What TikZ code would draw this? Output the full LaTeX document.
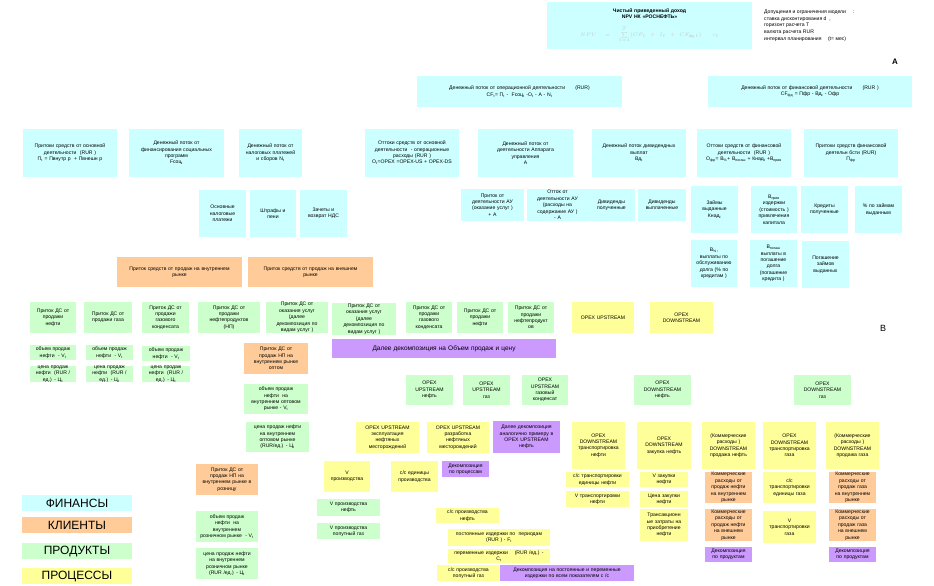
\documentclass[tikz,border=0pt]{standalone}
\usepackage{fontspec}
\setmainfont{Liberation Sans}
\usepackage{amsmath}
\definecolor{cy}{HTML}{CCFFFF}
\definecolor{or}{HTML}{FFCC99}
\definecolor{gr}{HTML}{CCFFCC}
\definecolor{ye}{HTML}{FFFF99}
\definecolor{pu}{HTML}{CC99FF}
\tikzset{
  box/.style={inner sep=0pt,align=center,font=\fontsize{5.1}{6.4}\selectfont,draw=none},
  legend/.style={font=\fontsize{12}{14}\selectfont},
  bigtxt/.style={font=\fontsize{6.5}{8}\selectfont},
  lbl/.style={inner sep=0pt}
}
\newcommand\bx[8][]{%
  \pgfmathsetmacro\bxw{#6-#4}%
  \pgfmathsetmacro\bxh{#7-#5}%
  \pgfmathsetmacro\bxt{#6-#4-2}%
  \node[box,fill=#3,minimum width=\bxw pt,minimum height=\bxh pt,text width=\bxt pt,#1] (#2) at ({(#4+#6)/2},{(#5+#7)/2}) {#8};}
\begin{document}
\begin{tikzpicture}[x=1pt,y=-1pt]
\fill[white] (0,0) rectangle (934,586);
\useasboundingbox (0,0) rectangle (934,586);
% top
\bx{npv}{cy}{547}{2}{752}{49}{{\bfseries Чистый приведенный доход\\NPV НК «РОСНЕФТЬ»}\\[7pt]{\color{gray!45}\fontsize{5.5}{6}\selectfont $NPV=\sum\limits_{t=1}^{T}(CF_t+I_t+CF_{\text{фд}\,t})\cdot r_t$}}
\node[lbl,anchor=north west,align=left,font=\fontsize{5.1}{6.6}\selectfont] (assum) at (764,10) {Допущения и ограничения модели \quad :\\ставка дисконтирования d \ ,\\горизонт расчета T\\валюта расчета RUR\\интервал планирования \quad (t= мес)};
\node[lbl,font=\fontsize{8}{9}\selectfont\bfseries] (lblA) at (895,62) {A};
\node[lbl,font=\fontsize{9}{10}\selectfont] (lblB) at (883,328) {B};
% level 2
\bx{op}{cy}{417}{76}{622}{107}{Денежный поток от операционной деятельности\qquad (RUR)\\CF\textsubscript{t}= П\textsubscript{t} - \ Fсоц\textsubscript{t} -O\textsubscript{t} - A - N\textsubscript{t}}
\bx{fin}{cy}{708}{76}{912}{107}{Денежный поток от финансовой деятельности\qquad (RUR )\\CF\textsubscript{фд} = Пфр - Вд\textsubscript{t} - Офр}
% level 3
\bx{inop}{cy}{23}{129}{117}{177}{Притоки средств от основной\\деятельности \ (RUR )\\П\textsubscript{t} = Пвнутр р \ + Пвнешн р}
\bx{soc}{cy}{129}{129}{224}{177}{Денежный поток от\\финансирования социальных\\программ\\Fсоц\textsubscript{t}}
\bx{tax}{cy}{239}{129}{302}{177}{Денежный поток от\\налоговых платежей\\и сборов N\textsubscript{t}}
\bx{outop}{cy}{365}{129}{459}{177}{Оттоки средств от основной\\деятельности \ - операционные\\расходы (RUR )\\O\textsubscript{t}=OPEX =OPEX-US + OPEX-DS}
\bx{au}{cy}{478}{129}{573}{177}{Денежный поток от\\деятельности Аппарата\\управления\\A}
\bx{div}{cy}{592}{129}{686}{177}{Денежный поток дивидендных\\выплат\\Вд\textsubscript{t}}
\bx{outfin}{cy}{697}{129}{791}{177}{Оттоки средств от финансовой\\деятельности \ (RUR )\\O\textsubscript{фр}= B\textsubscript{\%}+ B\textsubscript{погаш} + Кнад\textsubscript{t} +B\textsubscript{прив}}
\bx{infin}{cy}{804}{129}{898}{177}{Притоки средств финансовой\\деятельн бсти (RUR)\\П\textsubscript{фр}}
% level 4
\bx{maintax}{cy}{199}{190}{246}{237}{Основные\\налоговые\\платежи}
\bx{fines}{cy}{250}{190}{296}{237}{Штрафы и\\пени}
\bx{vat}{cy}{300}{190}{347}{237}{Зачеты и\\возврат НДС}
\bx{auin}{cy}{461}{189}{524}{221}{Приток от\\деятельности АУ\\(оказание услуг )\\+ A}
\bx{auout}{cy}{527}{189}{588}{221}{Отток от\\деятельности АУ\\(расходы на\\содержание АУ )\\- A}
\bx{divin}{cy}{588}{189}{635}{221}{Дивиденды\\полученные}
\bx{divout}{cy}{638}{189}{686}{221}{Дивиденды\\выплаченные}
\bx{loans}{cy}{691}{186}{738}{233}{Займы\\выданные\\Кнад\textsubscript{t}}
\bx{bpriv}{cy}{751}{186}{797}{233}{B\textsubscript{прив}\\издержки\\(стоимость )\\привлечения\\капитала}
\bx{credits}{cy}{801}{186}{848}{233}{Кредиты\\полученные}
\bx{pct}{cy}{855}{186}{902}{233}{\% по займам\\выданным}
\bx{bpct}{cy}{691}{240}{737}{287}{B\textsubscript{\%},\\выплаты по\\обслуживанию\\долга (\% по\\кредитам )}
\bx{bpog}{cy}{750}{240}{797}{287}{B\textsubscript{погаш}\\выплаты в\\погашение\\долга\\(погашение\\кредита )}
\bx{repay}{cy}{802}{241}{849}{288}{Погашение\\займов\\выданных}
% clients
\bx{dom}{or}{117}{257}{242}{287}{Приток средств от продаж на внутреннем\\рынке}
\bx{ext}{or}{248}{257}{373}{287}{Приток средств от продаж на внешнем\\рынке}
% products
\bx{poil}{gr}{30}{302}{76}{333}{Приток ДС от\\продажи\\нефти}
\bx{pgas}{gr}{84}{302}{132}{333}{Приток ДС от\\продажи газа}
\bx{pcond}{gr}{142}{302}{189}{333}{Приток ДС от\\продажи\\газового\\конденсата}
\bx{pnp}{gr}{198}{302}{260}{333}{Приток ДС от\\продажи\\нефтепродуктов\\(НП)}
\bx{pserv}{gr}{266}{302}{328}{333}{Приток ДС от\\оказания услуг\\(далее\\декомпозиция по\\видам услуг )}
\bx{pserv2}{gr}{332}{303}{396}{335}{Приток ДС от\\оказания услуг\\(далее\\декомпозиция по\\видам услуг )}
\bx{pcond2}{gr}{406}{302}{452}{333}{Приток ДС от\\продажи\\газового\\конденсата}
\bx{poil2}{gr}{457}{302}{503}{333}{Приток ДС от\\продажи\\нефти}
\bx{pnp2}{gr}{508}{302}{554}{333}{Приток ДС от\\продажи\\нефтепродукт\\ов}
\bx{opexus}{ye}{572}{302}{634}{333}{OPEX UPSTREAM}
\bx{opexds}{ye}{650}{302}{713}{333}{OPEX\\DOWNSTREAM}
% volume / price
\bx{v1}{gr}{30}{345}{76}{360}{объем продаж\\нефти \ - V\textsubscript{t}}
\bx{v2}{gr}{86}{345}{133}{360}{объем продаж\\нефти \ - V\textsubscript{t}}
\bx{v3}{gr}{142}{346}{190}{361}{объем продаж\\нефти \ - V\textsubscript{t}}
\bx{c1}{gr}{30}{366}{76}{382}{цена продаж\\нефти \ (RUR /\\ед.) - Ц\textsubscript{t}}
\bx{c2}{gr}{86}{366}{133}{382}{цена продаж\\нефти \ (RUR /\\ед.) - Ц\textsubscript{t}}
\bx{c3}{gr}{142}{366}{190}{382}{цена продаж\\нефти \ (RUR /\\ед.) - Ц\textsubscript{t}}
\bx{npopt}{or}{244}{343}{308}{374}{Приток ДС от\\продаж НП на\\внутреннем рынке\\оптом}
\bx[bigtxt]{further}{pu}{332}{339}{556}{358}{Далее декомпозиция на Объем продаж и цену}
\bx{vopt}{gr}{244}{384}{308}{414}{объем продаж\\нефти \ на\\внутреннем оптовом\\рынке - V\textsubscript{t}}
\bx{copt}{gr}{246}{422}{309}{452}{цена продаж нефти\\на внутреннем\\оптовом рынке\\(RUR/ед.) - Ц\textsubscript{t}}
\bx{nprozn}{or}{196}{464}{258}{495}{Приток ДС от\\продаж НП на\\внутреннем рынке в\\розницу}
\bx{vrozn}{gr}{196}{511}{258}{542}{объем продаж\\нефти \ на\\внутреннем\\розничном рынке \ - V\textsubscript{t}}
\bx{crozn}{gr}{196}{548}{258}{579}{цена продаж нефти\\на внутреннем\\розничном рынке\\(RUR /ед.) - Ц\textsubscript{t}}
% OPEX products
\bx{usoil}{gr}{406}{375}{453}{405}{OPEX\\UPSTREAM\\нефть}
\bx{usgas}{gr}{463}{375}{510}{405}{OPEX\\UPSTREAM\\газ}
\bx{uscond}{gr}{522}{375}{568}{405}{OPEX\\UPSTREAM\\газовый\\конденсат}
\bx{dsoil}{gr}{634}{375}{691}{405}{OPEX\\DOWNSTREAM\\нефть}
\bx{dsgas}{gr}{794}{375}{851}{405}{OPEX\\DOWNSTREAM\\газ}
% processes
\bx{usexp}{ye}{356}{422}{419}{453}{OPEX UPSTREAM\\эксплуатация\\нефтяных\\месторождений}
\bx{usdev}{ye}{427}{422}{489}{453}{OPEX UPSTREAM\\разработка\\нефтяных\\месторождений}
\bx{furth2}{pu}{493}{421}{560}{453}{Далее декомпозиция\\аналогично примеру в\\OPEX UPSTREAM\\нефть}
\bx{dstr}{ye}{572}{422}{625}{469}{OPEX\\DOWNSTREAM\\транспортировка\\нефти}
\bx{dsbuy}{ye}{637}{422}{691}{469}{OPEX\\DOWNSTREAM\\закупка нефть}
\bx{sstr}{ye}{566}{472}{629}{487}{с/с транспортировки\\единицы нефти}
\bx{vtr}{ye}{566}{491}{629}{507}{V транспортировки\\нефти}
\bx{vbuy}{ye}{640}{472}{688}{487}{V закупки\\нефти}
\bx{pbuy}{ye}{640}{491}{688}{507}{Цена закупки\\нефти}
\bx{trans}{ye}{640}{509}{688}{541}{Трансакционн\\ые затраты на\\приобретение\\нефти}
\bx{vprod}{ye}{324}{461}{370}{492}{V\\производства}
\bx{sprod}{ye}{391}{461}{438}{492}{с/с единицы\\производства}
\bx{decproc}{pu}{442}{461}{489}{477}{Декомпозиция\\по процессам}
\bx{vpoil}{gr}{317}{499}{380}{516}{V производства\\нефть}
\bx{vpgas}{gr}{317}{523}{380}{539}{V производства\\попутный газ}
\bx{spoil}{ye}{436}{508}{499}{523}{с/с производства\\нефть}
\bx{fixc}{ye}{448}{529}{550}{546}{постоянные издержки по \ периодам\\(RUR ) - F\textsubscript{t}}
\bx{varc}{ye}{448}{549}{550}{563}{переменные издержки \quad (RUR /ед.) -\\C\textsubscript{t}}
\bx{spgas}{ye}{437}{565}{500}{581}{с/с производства\\попутный газ}
\bx{decfv}{pu}{500}{565}{634}{581}{Декомпозиция на постоянные и переменные\\издержки по всем показателям с /с}
\bx{comoil}{ye}{702}{422}{755}{469}{(Коммерческие\\расходы )\\DOWNSTREAM\\продажа нефть}
\bx{dstrg}{ye}{763}{422}{816}{469}{OPEX\\DOWNSTREAM\\транспортировка\\газа}
\bx{comgas}{ye}{826}{422}{879}{469}{(Коммерческие\\расходы )\\DOWNSTREAM\\продажа газа}
\bx{coid}{or}{705}{472}{752}{503}{Коммерческие\\расходы от\\продаж нефти\\на внутреннем\\рынке}
\bx{coie}{or}{705}{509}{752}{541}{Коммерческие\\расходы от\\продаж нефти\\на внешнем\\рынке}
\bx{decp1}{pu}{705}{547}{752}{562}{Декомпозиция\\по продуктам}
\bx{strg}{ye}{763}{472}{816}{503}{с/с\\транспортировки\\единицы газа}
\bx{vtrg}{ye}{763}{511}{816}{543}{V\\транспортировки\\газа}
\bx{cogd}{or}{829}{472}{876}{503}{Коммерческие\\расходы от\\продаж газа\\на внутреннем\\рынке}
\bx{coge}{or}{829}{509}{876}{541}{Коммерческие\\расходы от\\продаж газа\\на внешнем\\рынке}
\bx{decp2}{pu}{829}{547}{876}{562}{Декомпозиция\\по продуктам}
% legend
\bx[legend]{lfin}{cy}{22}{495}{132}{511}{ФИНАНСЫ}
\bx[legend]{lcli}{or}{22}{517}{132}{533}{КЛИЕНТЫ}
\bx[legend]{lprod}{gr}{22}{543}{132}{559}{ПРОДУКТЫ}
\bx[legend]{lproc}{ye}{22}{568}{132}{584}{ПРОЦЕССЫ}
\end{tikzpicture}
\end{document}
